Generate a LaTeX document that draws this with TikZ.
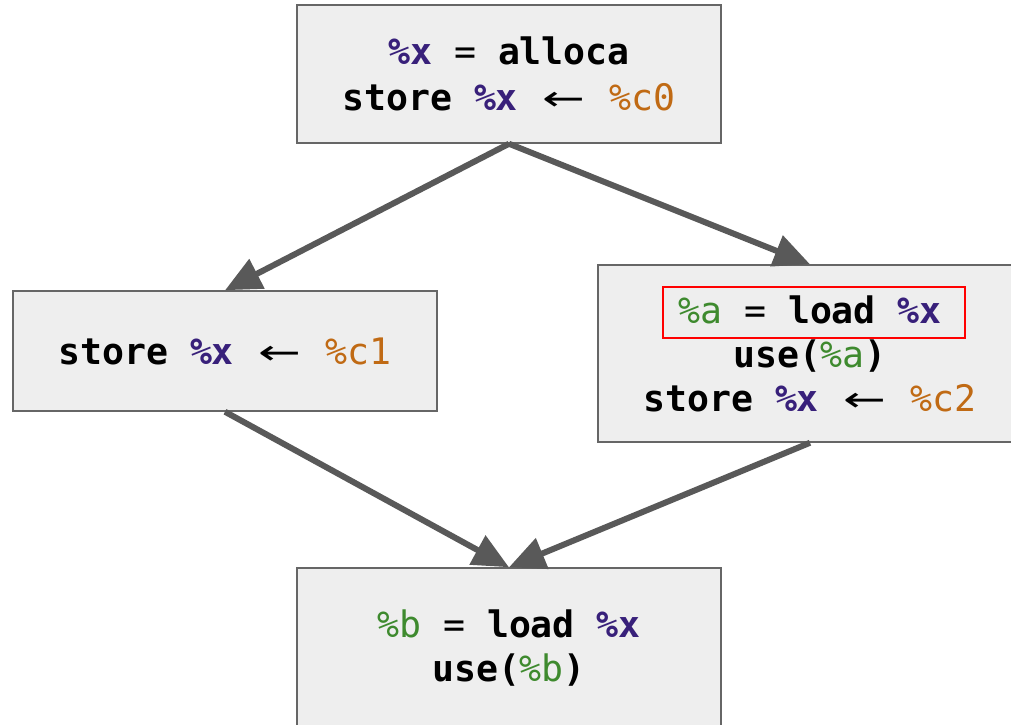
\documentclass[tikz,border=0pt]{standalone}
\usepackage{fontspec}
\newfontfamily\codefont{DejaVu Sans Mono}
\newfontfamily\arrfont{DejaVu Sans}
\usetikzlibrary{arrows.meta}
\definecolor{varx}{HTML}{38207A}
\definecolor{varc}{HTML}{C06A14}
\definecolor{varg}{HTML}{3E8A2E}
\definecolor{boxgray}{HTML}{666666}
\definecolor{boxfill}{HTML}{EEEEEE}
\definecolor{arrgray}{HTML}{595959}
\newcommand{\myx}{\textcolor{varx}{\textbf{\%x}}}
\newcommand{\myc}[1]{\textcolor{varc}{\%c#1}}
\newcommand{\myg}[1]{\textcolor{varg}{\%#1}}
\newcommand{\myarr}{\makebox[48pt]{\arrfont\scalebox{1.4}[0.95]{←}}}
\newcommand{\kw}[1]{\textbf{#1}}
\begin{document}
\begin{tikzpicture}[x=1pt,y=-1pt,
  font=\codefont\fontsize{36.5}{44}\selectfont,
  blk/.style={draw=boxgray, fill=boxfill, line width=1.5pt, minimum width=424pt,
    inner sep=0pt, align=center},
  flow/.style={draw=arrgray, line width=6pt,
    -{Triangle[length=36pt,width=32pt]}}]
\useasboundingbox (0,0) rectangle (1011,724);
\clip (0,0) rectangle (1011,724);
\node[blk, minimum height=138pt] (top) at (509,74)
  {\myx{} = \kw{alloca}\\[2pt]\kw{store} \myx{} \myarr{} \myc{0}};
\node[blk, minimum height=120pt] (left) at (225,351)
  {\kw{store} \myx{} \myarr{} \myc{1}};
\node[blk, minimum height=177pt] (right) at (810,353.5)
  {\myg{a} = \kw{load} \myx\\\kw{use(}\myg{a}\kw{)}\\\kw{store} \myx{} \myarr{} \myc{2}};
\node[blk, minimum height=160pt] (bot) at (509,648)
  {\myg{b} = \kw{load} \myx\\\kw{use(}\myg{b}\kw{)}};
\node[draw=red, line width=1.5pt, minimum width=302pt, minimum height=51pt, inner sep=0pt] (hl) at (814,312.5) {};
\draw[flow] (top.south) -- (left.north);
\draw[flow] (top.south) -- (right.north);
\draw[flow] (left.south) -- (bot.north);
\draw[flow] (right.south) -- (bot.north);
\end{tikzpicture}
\end{document}
